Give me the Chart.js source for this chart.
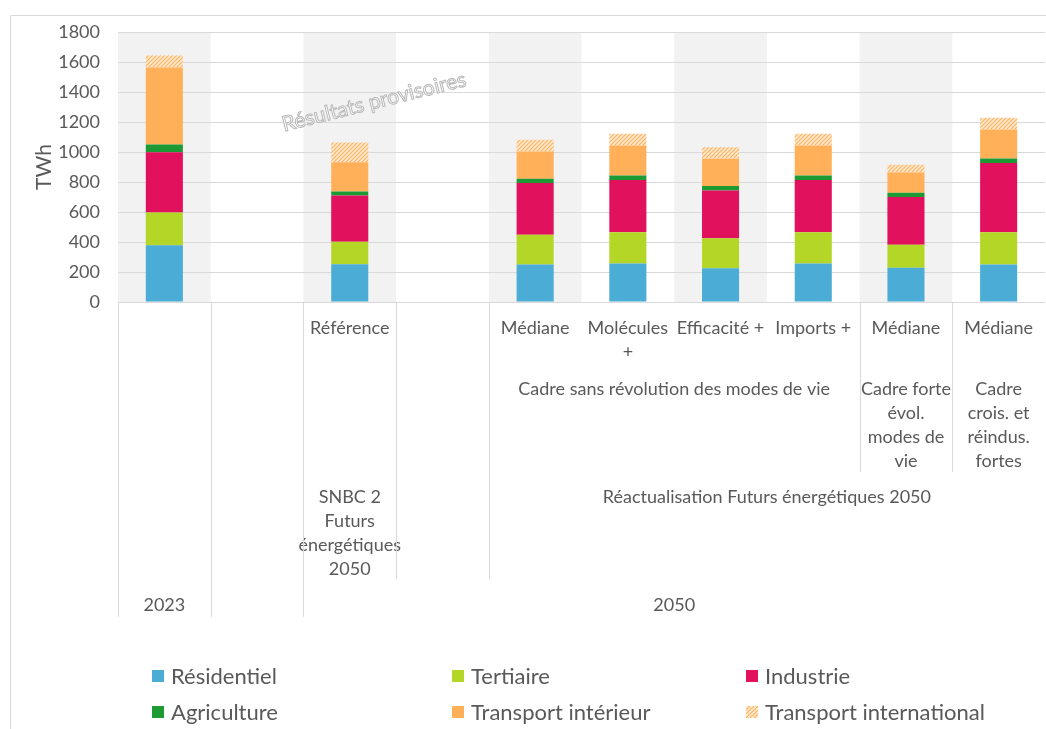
<!DOCTYPE html>
<html lang="fr">
<head>
<meta charset="utf-8">
<title>Consommation d'énergie finale par secteur</title>
<script src="https://cdn.jsdelivr.net/npm/chart.js@4"></script>
<style>
  html, body { margin: 0; padding: 0; background: #fff; }
  #wrap { width: 1046px; height: 729px; position: relative; }
</style>
</head>
<body>
<div id="wrap"><canvas id="chart"></canvas></div>
<script>
// catégories (niveau 1) : une case par barre, y compris les cases vides
const categories = [[], [], ["Référence"], [], ["Médiane"], ["Molécules", "+"], ["Efficacité +"], ["Imports +"], ["Médiane"], ["Médiane"]];

// niveaux de regroupement de l'axe (from / to = index des cases)
const cadres = [
  { text: ["Cadre sans révolution des modes de vie"], from: 4, to: 7 },
  { text: ["Cadre forte", "évol.", "modes de", "vie"], from: 8, to: 8 },
  { text: ["Cadre", "crois. et", "réindus.", "fortes"], from: 9, to: 9 }
];
const exercices = [
  { text: ["SNBC 2", "Futurs", "énergétiques", "2050"], from: 2, to: 2 },
  { text: ["Réactualisation Futurs énergétiques 2050"], from: 4, to: 9 }
];
const annees = [
  { text: ["2023"], from: 0, to: 0 },
  { text: ["2050"], from: 2, to: 9 }
];

// TWh
const residentiel = [378, null, 251, null, 250, 256, 225, 256, 228, 250];
const tertiaire = [219, null, 151, null, 199, 209, 200, 209, 153, 215];
const industrie = [401, null, 308, null, 344, 348, 319, 348, 319, 462];
const agriculture = [52, null, 27, null, 29, 31, 29, 31, 29, 30];
const transportInterieur = [514, null, 195, null, 182, 200, 182, 200, 135, 193];
const transportInternational = [80, null, 131, null, 78, 78, 76, 78, 51, 78];

const yTicks = { min: 0, max: 1800, step: 200 };

const texte = "#595959";
const trait = "#d9d9d9";
const police = "Lato";

function hachures() {
  const c = document.createElement("canvas");
  c.width = 4; c.height = 4;
  const g = c.getContext("2d");
  g.fillStyle = "#ffe9d0";
  g.fillRect(0, 0, 4, 4);
  g.strokeStyle = "#ffb460";
  g.lineWidth = 1.2;
  g.beginPath();
  g.moveTo(0, 4); g.lineTo(4, 0);
  g.moveTo(-1, 1); g.lineTo(1, -1);
  g.moveTo(3, 5); g.lineTo(5, 3);
  g.stroke();
  return g.createPattern(c, "repeat");
}

// bandes grises, axe multi-niveaux, filigrane, légende
const habillage = {
  id: "habillage",
  beforeDraw(chart) {
    const { ctx, chartArea: a, scales: { x } } = chart;
    const w = x.getPixelForValue(1) - x.getPixelForValue(0);
    ctx.save();
    ctx.fillStyle = "#f2f2f2";
    for (let i = 0; i < categories.length; i += 2) {
      ctx.fillRect(x.getPixelForValue(i) - w / 2, a.top, w, a.bottom - a.top);
    }
    // cadre du graphique
    ctx.strokeStyle = trait;
    ctx.lineWidth = 1;
    ctx.beginPath();
    ctx.moveTo(10.5, chart.height);
    ctx.lineTo(10.5, 15.5);
    ctx.lineTo(chart.width, 15.5);
    ctx.stroke();
    ctx.restore();
  },
  afterDraw(chart) {
    const { ctx, chartArea: a, scales: { x } } = chart;
    const w = x.getPixelForValue(1) - x.getPixelForValue(0);
    const bord = i => x.getPixelForValue(i) - w / 2;
    ctx.save();
    ctx.fillStyle = texte;
    ctx.textAlign = "center";
    ctx.textBaseline = "middle";
    ctx.font = "18px " + police;
    const ligne = 24;

    categories.forEach((lignes, i) => {
      lignes.forEach((t, k) => ctx.fillText(t, x.getPixelForValue(i), 328 + k * ligne));
    });

    const niveaux = [
      { groupes: cadres, y: 389, bas: 472 },
      { groupes: exercices, y: 497, bas: 579 },
      { groupes: annees, y: 605, bas: 617 }
    ];
    const profondeur = {};
    niveaux.forEach(n => {
      n.groupes.forEach(g => {
        const cx = (bord(g.from) + bord(g.to + 1)) / 2;
        g.text.forEach((t, k) => ctx.fillText(t, cx, n.y + k * ligne));
        [g.from, g.to + 1].forEach(b => {
          profondeur[b] = Math.max(profondeur[b] || 0, n.bas);
        });
      });
    });
    ctx.strokeStyle = trait;
    ctx.lineWidth = 1;
    Object.keys(profondeur).forEach(b => {
      if (+b >= categories.length) return;
      const px = Math.round(bord(+b)) + 0.5;
      ctx.beginPath();
      ctx.moveTo(px, a.bottom);
      ctx.lineTo(px, profondeur[b]);
      ctx.stroke();
    });

    // filigrane
    ctx.save();
    ctx.translate(374, 102);
    ctx.rotate(-14 * Math.PI / 180);
    ctx.font = "21px " + police;
    ctx.fillStyle = "#ffffff";
    ctx.fillText("Résultats provisoires", 0, 0);
    ctx.strokeStyle = "#b8b8b8";
    ctx.lineWidth = 1;
    ctx.strokeText("Résultats provisoires", 0, 0);
    ctx.restore();

    // légende
    const cols = [152, 452, 746];
    const rows = [676, 712];
    ctx.textAlign = "left";
    ctx.font = "22px " + police;
    chart.data.datasets.forEach((ds, i) => {
      const lx = cols[i % 3], ly = rows[Math.floor(i / 3)];
      ctx.fillStyle = ds.backgroundColor;
      ctx.fillRect(lx, ly - 6, 12, 12);
      ctx.fillStyle = texte;
      ctx.fillText(ds.label, lx + 19, ly + 1);
    });
    ctx.restore();
  }
};

const ctx = document.getElementById("chart");

new Chart(ctx, {
  type: "bar",
  data: {
    labels: categories.map(c => c.join(" ")),
    datasets: [
      { label: "Résidentiel", data: residentiel, backgroundColor: "#4bacd6" },
      { label: "Tertiaire", data: tertiaire, backgroundColor: "#b4d626" },
      { label: "Industrie", data: industrie, backgroundColor: "#e2115d" },
      { label: "Agriculture", data: agriculture, backgroundColor: "#1e9a34" },
      { label: "Transport intérieur", data: transportInterieur, backgroundColor: "#ffb058" },
      { label: "Transport international", data: transportInternational, backgroundColor: hachures() }
    ]
  },
  options: {
    responsive: true,
    maintainAspectRatio: false,
    animation: false,
    layout: { padding: { top: 32, bottom: 427, left: 0, right: 1 } },
    datasets: { bar: { categoryPercentage: 1, barPercentage: 0.4, borderWidth: 0 } },
    plugins: { legend: { display: false }, tooltip: { enabled: false } },
    scales: {
      x: { stacked: true, display: false },
      y: {
        stacked: true,
        min: yTicks.min,
        max: yTicks.max,
        ticks: {
          stepSize: yTicks.step,
          color: texte,
          font: { family: police, size: 18 },
          padding: 18,
          callback: v => String(v)
        },
        grid: { color: trait, drawTicks: false },
        border: { display: false },
        title: { display: true, text: "TWh", color: texte, font: { family: police, size: 21 }, padding: { top: 32, bottom: 0 } },
        afterFit: s => { s.width = 118; }
      }
    }
  },
  plugins: [habillage]
});
</script>
</body>
</html>
